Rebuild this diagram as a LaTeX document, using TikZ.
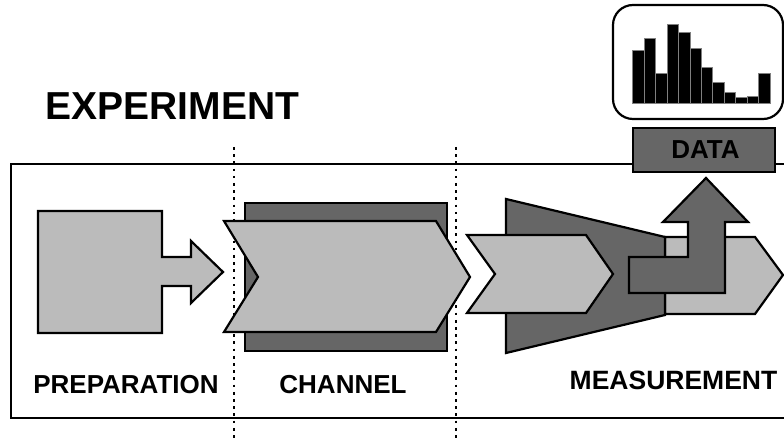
\documentclass[tikz,border=0pt]{standalone}
\usepackage{fontspec}
\setmainfont{Liberation Sans}
\definecolor{lightg}{RGB}{187,187,187}
\definecolor{darkg}{RGB}{102,102,102}
\begin{document}
\begin{tikzpicture}[x=1pt,y=-1pt,
  shp/.style={draw=black,line width=2.2pt},
  lightf/.style={shp,fill=lightg},
  darkf/.style={shp,fill=darkg},
  bar/.style={fill=black,draw=gray,line width=0.6pt},
  sep/.style={line width=2.4pt,dash pattern=on 2.7pt off 4.5pt},
  lbl/.style={font=\fontsize{26}{26}\selectfont\bfseries,inner sep=0pt,anchor=base}]
\useasboundingbox (0,0) rectangle (784,438);
% outer frame
\draw[line width=2.2pt] (11,164) rectangle (820,418);
% separators
\draw[sep] (234,147) -- (234,438);
\draw[sep] (456,147) -- (456,438);
% preparation
\draw[lightf] (38,211) -- (162,211) -- (162,257) -- (191,257) -- (191,241) -- (223,272)
  -- (191,303) -- (191,286) -- (162,286) -- (162,333) -- (38,333) -- cycle;
% channel
\draw[darkf] (245,203) rectangle (447,351);
\draw[lightf] (224,221) -- (436,221) -- (470,277) -- (436,332) -- (224,332) -- (258,277) -- cycle;
% measurement
\draw[lightf] (665,237) -- (755,237) -- (783,275) -- (755,314) -- (665,314) -- cycle;
\draw[darkf] (506,199) -- (665,237) -- (665,315) -- (506,353) -- cycle;
\draw[lightf] (467,235) -- (586,235) -- (613,274) -- (586,313) -- (467,313) -- (495,274) -- cycle;
\draw[darkf] (629,257) -- (688,257) -- (688,222) -- (663,222) -- (706,178) -- (748,222)
  -- (725,222) -- (725,293) -- (629,293) -- cycle;
% data
\draw[darkf] (633,128) rectangle (775,172);
\node[lbl,font=\fontsize{26}{26}\selectfont\bfseries] (data) at (705.5,158.5) {DATA};
\draw[shp,fill=white,rounded corners=20pt] (613,5) rectangle (783,119);
\foreach \i/\h in {0/50.7,1/38.3,2/73.7,3/24.3,4/32.7,5/48.7,6/67,7/82,8/92.3,9/97.7,10/96,11/73.7}
  \draw[bar] ({632.7+11.44*\i},103) rectangle ({632.7+11.44*(\i+1)},\h);
% labels
\node[lbl,font=\fontsize{39}{39}\selectfont\bfseries] (exp) at (172.5,120) {EXPERIMENT};
\node[lbl] (prep) at (126,393) {PREPARATION};
\node[lbl] (chan) at (343,393) {CHANNEL};
\node[lbl,font=\fontsize{26.5}{26.5}\selectfont\bfseries] (meas) at (673.5,389) {MEASUREMENT};
\end{tikzpicture}
\end{document}
